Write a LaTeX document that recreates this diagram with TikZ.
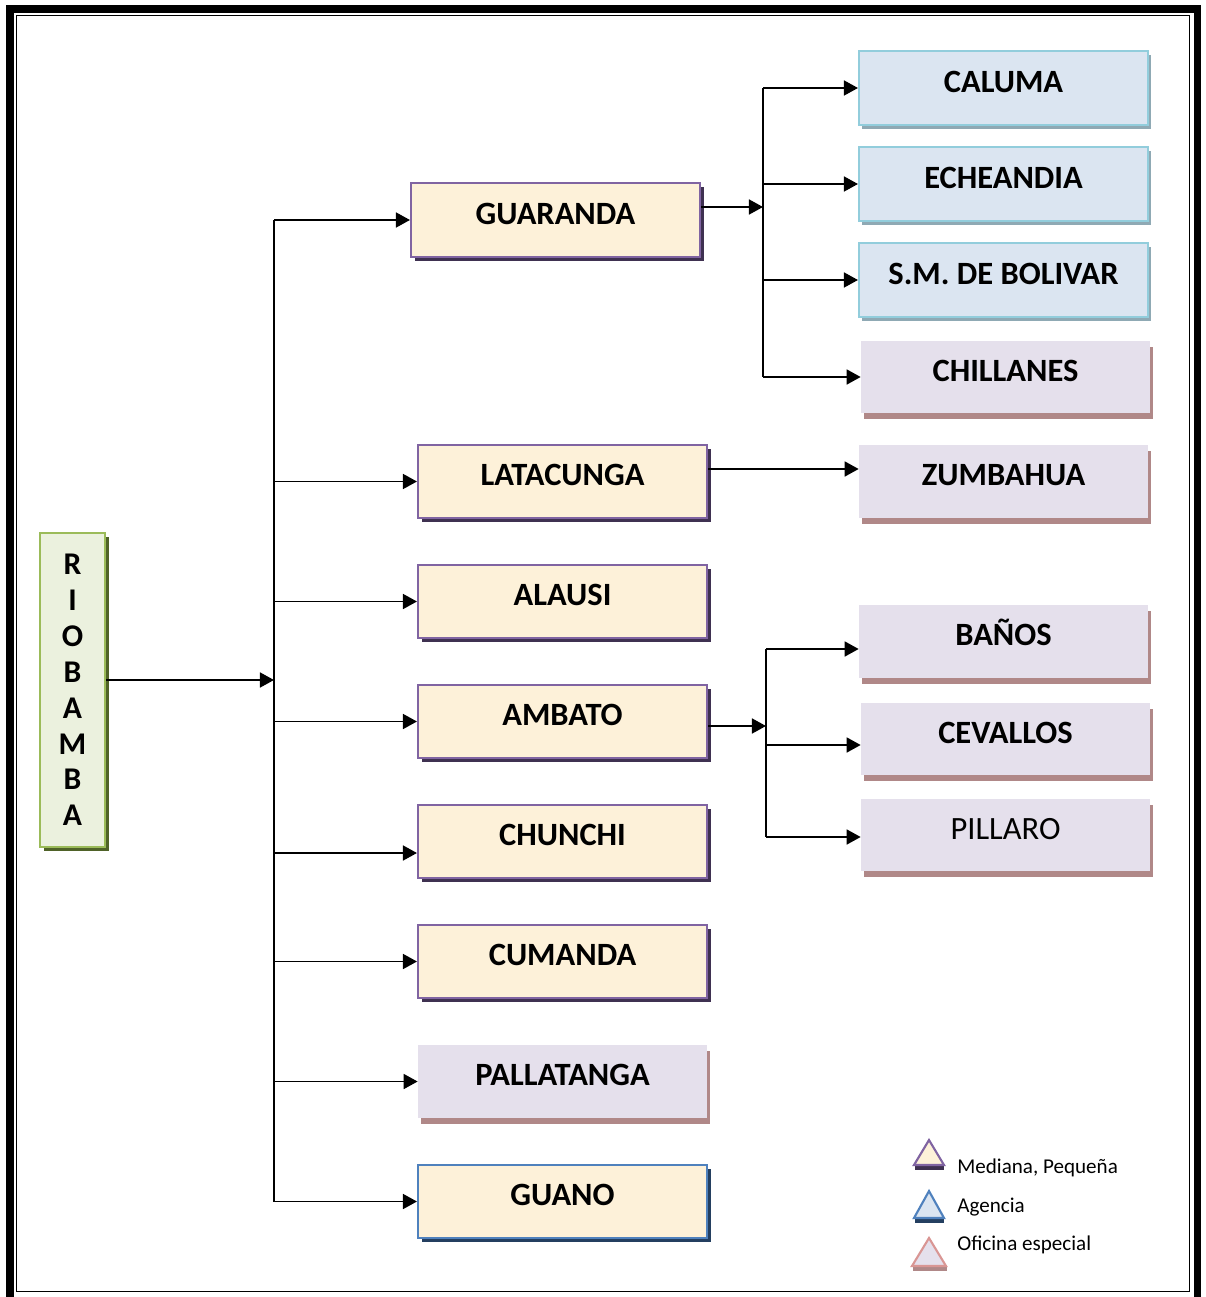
\documentclass[tikz,border=0pt]{standalone}
\usepackage{fontspec}
\setmainfont{Carlito}
\usepackage{tikz}
\usetikzlibrary{arrows.meta, shadows}

\definecolor{cream}{HTML}{FDF1D9}
\definecolor{medborder}{HTML}{8064A2}
\definecolor{medshadow}{HTML}{3F3151}
\definecolor{agfill}{HTML}{DBE5F1}
\definecolor{agborder}{HTML}{92CDDC}
\definecolor{agshadow}{HTML}{8FA9B4}
\definecolor{offill}{HTML}{E5E0EC}
\definecolor{ofshadow}{HTML}{B08888}
\definecolor{rbfill}{HTML}{EBF1DE}
\definecolor{rbborder}{HTML}{9BBB59}
\definecolor{rbshadow}{HTML}{4F6228}
\definecolor{gnborder}{HTML}{4F81BD}
\definecolor{gnshadow}{HTML}{243F60}
\definecolor{lgpink}{HTML}{D99694}

\begin{document}
\begin{tikzpicture}[x=0.02cm, y=-0.02cm,
    box/.style={minimum width=5.78cm, minimum height=1.47cm, inner sep=0pt,
        font=\bfseries\fontsize{18.5}{22}\selectfont, text height=0.65em, text depth=0.16em},
    medbox/.style={box, fill=cream, draw=medborder, line width=1.2pt,
        drop shadow={shadow xshift=2.2pt, shadow yshift=-2.2pt, fill=medshadow, opacity=1}},
    agbox/.style={box, fill=agfill, draw=agborder, line width=1.2pt,
        drop shadow={shadow xshift=1.8pt, shadow yshift=-2.4pt, fill=agshadow, opacity=1}},
    ofbox/.style={box, fill=offill,
        drop shadow={shadow xshift=1.8pt, shadow yshift=-3.3pt, fill=ofshadow, opacity=1}},
    conn/.style={line width=1.1pt, -{Triangle[length=8pt, width=8.5pt]}},
    trunk/.style={line width=1.1pt},
    legend text/.style={font=\fontsize{12}{14}\selectfont, anchor=base west, inner sep=0pt}]

    \useasboundingbox (0,0) rectangle (1205,1297);

    % Frame
    \draw[line width=4pt] (10,9) rectangle (1197,1303);
    \draw[line width=1.1pt] (16.5,15.5) rectangle (1189.5,1291.5);

    % Riobamba
    \node[minimum width=1.3cm, minimum height=6.28cm, inner sep=0pt, fill=rbfill,
        draw=rbborder, line width=1.2pt, align=center,
        font=\bfseries\fontsize{18}{20.4}\selectfont,
        drop shadow={shadow xshift=2.2pt, shadow yshift=-2.2pt, fill=rbshadow, opacity=1}]
        (riobamba) at (72.5,690) {R\\I\\O\\B\\A\\M\\B\\A};

    % Middle column
    \node[medbox] (guaranda) at (555.5,220) {GUARANDA};
    \node[medbox] (latacunga) at (562.5,481.5) {LATACUNGA};
    \node[medbox] (alausi) at (562.5,601.5) {ALAUSI};
    \node[medbox] (ambato) at (562.5,721.5) {AMBATO};
    \node[medbox] (chunchi) at (562.5,841.5) {CHUNCHI};
    \node[medbox] (cumanda) at (562.5,961.5) {CUMANDA};
    \node[ofbox] (pallatanga) at (562.5,1081.5) {PALLATANGA};
    \node[medbox, draw=gnborder, drop shadow={shadow xshift=2.2pt, shadow yshift=-2.2pt, fill=gnshadow, opacity=1}]
        (guano) at (562.5,1201.5) {GUANO};

    % Right column
    \node[agbox] (caluma) at (1003.5,88) {CALUMA};
    \node[agbox] (echeandia) at (1003.5,184) {ECHEANDIA};
    \node[agbox] (smbolivar) at (1003.5,280) {S.M. DE BOLIVAR};
    \node[ofbox, minimum height=1.44cm] (chillanes) at (1005.5,377) {CHILLANES};
    \node[ofbox] (zumbahua) at (1003.5,481.5) {ZUMBAHUA};
    \node[ofbox] (banos) at (1003.5,641.5) {BAÑOS};
    \node[ofbox, minimum height=1.44cm] (cevallos) at (1005.5,739) {CEVALLOS};
    \node[ofbox, minimum height=1.44cm, font=\fontsize{18.5}{22}\selectfont] (pillaro) at (1005.5,835) {PILLARO};

    % Riobamba branches
    \coordinate (rj) at (274,680);
    \coordinate (rch) at (274,853);
    \draw[conn] (riobamba.east |- rj) -- (rj);
    \draw[trunk] (rj |- guaranda.west) -- (rj |- guano.west);
    \draw[conn] (rj |- guaranda.west) -- (guaranda.west);
    \draw[conn] (rj |- latacunga.west) -- (latacunga.west);
    \draw[conn] (rj |- alausi.west) -- (alausi.west);
    \draw[conn] (rj |- ambato.west) -- (ambato.west);
    \draw[conn] (rch) -- (chunchi.west |- rch);
    \draw[conn] (rj |- cumanda.west) -- (cumanda.west);
    \draw[conn] (rj |- pallatanga.west) -- (pallatanga.west);
    \draw[conn] (rj |- guano.west) -- (guano.west);

    % Guaranda branches
    \coordinate (gj) at (763,207);
    \draw[conn] (guaranda.east |- gj) -- (gj);
    \draw[trunk] (gj |- caluma.west) -- (gj |- chillanes.west);
    \draw[conn] (gj |- caluma.west) -- (caluma.west);
    \draw[conn] (gj |- echeandia.west) -- (echeandia.west);
    \draw[conn] (gj |- smbolivar.west) -- (smbolivar.west);
    \draw[conn] (gj |- chillanes.west) -- (chillanes.west);

    % Latacunga branch
    \coordinate (lj) at (707,469);
    \draw[conn] (latacunga.east |- lj) -- (zumbahua.west |- lj);

    % Ambato branches
    \coordinate (aj) at (766,726);
    \coordinate (ab) at (766,649);
    \coordinate (ac) at (766,745);
    \coordinate (ap) at (766,837);
    \draw[conn] (ambato.east |- aj) -- (aj);
    \draw[trunk] (ab) -- (ap);
    \draw[conn] (ab) -- (banos.west |- ab);
    \draw[conn] (ac) -- (cevallos.west |- ac);
    \draw[conn] (ap) -- (pillaro.west |- ap);

    % Legend
    \fill[medshadow] (915,1165) rectangle (944,1170);
    \filldraw[fill=cream, draw=medborder, line width=1.2pt] (929,1140) -- (914,1165) -- (944,1165) -- cycle;
    \fill[gnshadow] (915,1218) rectangle (944,1223);
    \filldraw[fill=agfill, draw=gnborder, line width=1.2pt] (929,1191) -- (914,1218) -- (944,1218) -- cycle;
    \fill[ofshadow] (913,1266) rectangle (947,1271);
    \filldraw[fill=offill, draw=lgpink, line width=1.2pt] (929,1238) -- (912,1266) -- (946,1266) -- cycle;
    \node[legend text] (lgmed) at (957,1173) {Mediana, Pequeña};
    \node[legend text] (lgag) at (957,1212) {Agencia};
    \node[legend text] (lgof) at (957,1250) {Oficina especial};
\end{tikzpicture}
\end{document}
